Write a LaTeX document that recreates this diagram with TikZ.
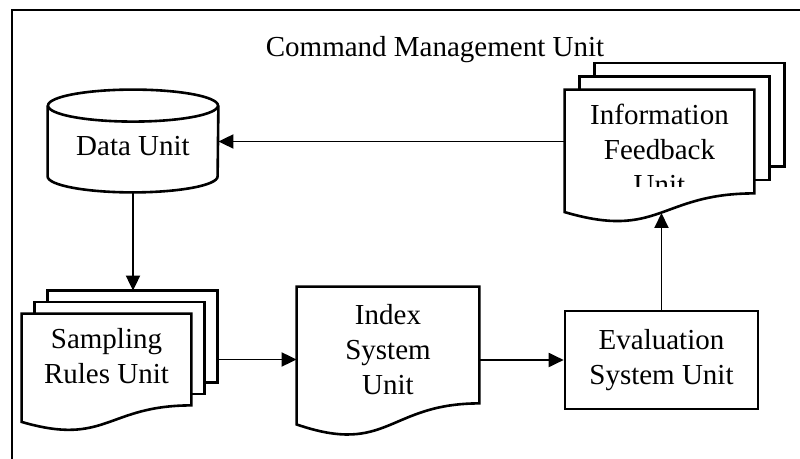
\documentclass[tikz,border=0pt]{standalone}
\usepackage{fontspec}
\setmainfont{Liberation Serif}
\usetikzlibrary{arrows.meta,calc,backgrounds}

\tikzset{
  page/.style={draw,line width=1.3pt,fill=white},
  unit/.style={draw=none,inner sep=0pt,align=center,
    font=\fontsize{14.5}{17.5}\selectfont},
  arr/.style={line width=.95pt,-{Triangle[length=7.5pt,width=7pt]}}
}

% page with wavy bottom, built on the text box of node #1
\newcommand{\docpage}[1]{%
  \draw[page] (#1.north west) -- (#1.north east) -- (#1.south east)
    .. controls (#1.south) and ($(#1.north)!1.45!(#1.south)$)
    .. ($(#1.north west)!1.18!(#1.south west)$) -- cycle;}

% three pages, #2/#3 = offset of each back page
\newcommand{\docstack}[3]{%
  \foreach \k in {2,1}
    \draw[page] ([shift={({\k*#2},{\k*(#3)})}]#1.north west)
      rectangle ([shift={({\k*#2},{\k*(#3)})}]#1.south east);
  \docpage{#1}
  \coordinate (#1-back) at ([shift={({2*#2},0)}]#1.east);
  \coordinate (#1-top) at ([shift={({2*#2},{2*(#3)})}]#1.north);}

\begin{document}
\begin{tikzpicture}[x=0.5pt,y=-0.5pt]
  \useasboundingbox (0,0) rectangle (800,459);
  \draw[line width=1.3pt] (12,470) -- (12,10) -- (810,10);

  \node[unit] (title) at (435,50) {Command Management Unit};

  % units
  \node[unit,minimum width=85pt,minimum height=51pt,text height=14.5pt]
    (data) at (133,141) {Data Unit};
  \node[unit,minimum width=84.5pt,minimum height=45.5pt,text depth=4pt]
    (samp) at (106.5,359.5) {Sampling\\Rules Unit};
  \node[unit,minimum width=91pt,minimum height=58pt]
    (idx) at (388,345) {\rule{0pt}{15pt}Index\\System\\Unit};
  \node[unit,draw,line width=1.3pt,minimum width=96.5pt,minimum height=49pt]
    (eval) at (661.5,360) {Evaluation\\System Unit};
  \node[unit,minimum width=94.5pt,minimum height=51.5pt] (fb) at (659.5,141.5) {};
  \begin{scope}
    \clip (565,90) rectangle (754,187);
    \node[unit] (fbtxt) at (659.5,149.5) {Information\\Feedback\\Unit};
  \end{scope}

  \begin{scope}[on background layer]
    \draw[page] ([yshift=-8pt]data.north west) -- ([yshift=8pt]data.south west)
      arc[start angle=180,end angle=360,x radius=42.5pt,y radius=8pt]
      -- ([yshift=-8pt]data.north east);
    \draw[page] ([yshift=-8pt]data.north) ellipse [x radius=42.5pt,y radius=8pt];
    \docstack{samp}{13}{-11.5}
    \docpage{idx}
    \docstack{fb}{15}{-13.3}
  \end{scope}

  % flow
  \coordinate (fbtip) at (661.5,213);
  \draw[arr] (fb.west) -- (data.east |- fb.west);
  \draw[arr] (data.south) -- (data.south |- samp-top);
  \draw[arr] (samp-back) -- (samp-back -| idx.west);
  \draw[arr] (idx.east |- eval.west) -- (eval.west);
  \draw[arr] (eval.north) -- (fbtip);
\end{tikzpicture}
\end{document}
